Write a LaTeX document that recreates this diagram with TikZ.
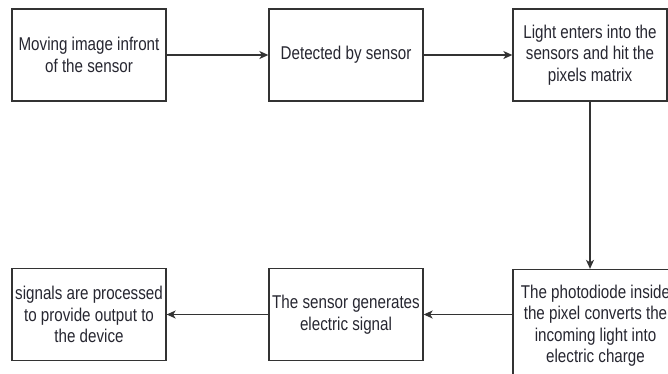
\documentclass[tikz,border=0pt]{standalone}
\usepackage{fontspec}
\setmainfont{Liberation Sans}
\newfontfamily\boxfont[FakeStretch=0.82]{Liberation Sans}
\usetikzlibrary{arrows.meta}
\definecolor{txt}{HTML}{262630}
\begin{document}
\begin{tikzpicture}[x=1pt,y=-1pt,
  box/.style={draw=black!80, line width=1.3pt, rectangle, minimum width=154pt, minimum height=92pt, align=center, inner sep=0pt, font=\boxfont\fontsize{18.5}{21.5}\selectfont, text=txt},
  conn/.style={draw=black!80, line width=1.3pt, -{Stealth[length=9pt,width=8pt,inset=2.5pt]}}]
\useasboundingbox (0,0) rectangle (668,373);
\node[box] (b1) at (89,55) {Moving image infront\\of the sensor};
\node[box] (b2) at (346,55) {Detected by sensor};
\node[box] (b3) at (590,55) {Light enters into the\\sensors and hit the\\pixels matrix};
\node[box] (b4) at (89,314.5) {signals are processed\\to provide output to\\the device};
\node[box] (b5) at (346,314.5) {The sensor generates\\electric signal};
\node[box, minimum width=165pt, minimum height=112pt] (b6) at (595.5,325.5) {The photodiode inside\\the pixel converts the\\incoming light into\\electric charge};
\draw[conn] (b1) -- (b2);
\draw[conn] (b2) -- (b3);
\draw[conn] (b3.south) -- (b3.south |- b6.north);
\draw[conn] (b6.west |- b5.east) -- (b5.east);
\draw[conn] (b5) -- (b4);
\end{tikzpicture}
\end{document}
